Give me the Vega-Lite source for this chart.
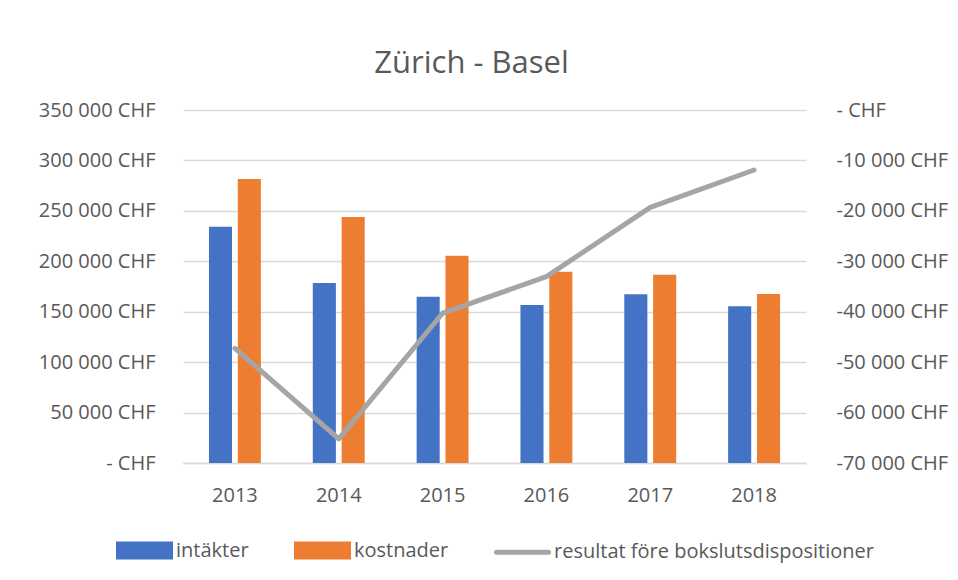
{
  "$schema": "https://vega.github.io/schema/vega-lite/v6.json",
  "width": 623,
  "height": 353,
  "autosize": {"type": "none"},
  "padding": {"left": 183, "top": 110, "right": 152, "bottom": 117},
  "background": "white",
  "title": {
    "text": "Zürich - Basel",
    "font": "Open Sans",
    "fontSize": 31,
    "fontWeight": "normal",
    "color": "#595959",
    "anchor": "middle",
    "dx": -23,
    "dy": 23,
    "baseline": "alphabetic",
    "offset": 19
  },
  "data": {
    "values": [
      {"year": "2013", "serie": "intäkter", "kind": "bar", "value": 234300},
      {"year": "2013", "serie": "kostnader", "kind": "bar", "value": 281600},
      {"year": "2014", "serie": "intäkter", "kind": "bar", "value": 178500},
      {"year": "2014", "serie": "kostnader", "kind": "bar", "value": 243900},
      {"year": "2015", "serie": "intäkter", "kind": "bar", "value": 164900},
      {"year": "2015", "serie": "kostnader", "kind": "bar", "value": 205500},
      {"year": "2016", "serie": "intäkter", "kind": "bar", "value": 156700},
      {"year": "2016", "serie": "kostnader", "kind": "bar", "value": 189700},
      {"year": "2017", "serie": "intäkter", "kind": "bar", "value": 167200},
      {"year": "2017", "serie": "kostnader", "kind": "bar", "value": 186700},
      {"year": "2018", "serie": "intäkter", "kind": "bar", "value": 155300},
      {"year": "2018", "serie": "kostnader", "kind": "bar", "value": 167500},
      {"year": "2013", "serie": "resultat före bokslutsdispositioner", "kind": "line", "value": -47250},
      {"year": "2014", "serie": "resultat före bokslutsdispositioner", "kind": "line", "value": -65200},
      {"year": "2015", "serie": "resultat före bokslutsdispositioner", "kind": "line", "value": -40300},
      {"year": "2016", "serie": "resultat före bokslutsdispositioner", "kind": "line", "value": -33050},
      {"year": "2017", "serie": "resultat före bokslutsdispositioner", "kind": "line", "value": -19300},
      {"year": "2018", "serie": "resultat före bokslutsdispositioner", "kind": "line", "value": -11900}
    ]
  },
  "layer": [
    {
      "transform": [{"filter": "datum.kind === 'bar'"}],
      "mark": {"type": "bar"},
      "encoding": {
        "x": {
          "field": "year",
          "type": "nominal",
          "sort": null,
          "scale": {"paddingInner": 0.5, "paddingOuter": 0.25},
          "axis": {"title": null, "labelAngle": 0, "ticks": false, "labelPadding": 22, "domainColor": "#D9D9D9", "domainWidth": 1.5, "grid": false}
        },
        "xOffset": {
          "field": "serie",
          "type": "nominal",
          "sort": ["intäkter", "kostnader"],
          "scale": {"paddingInner": 0.2, "paddingOuter": 0}
        },
        "y": {
          "field": "value",
          "type": "quantitative",
          "scale": {"domain": [0, 350000], "nice": false, "zero": true},
          "axis": {
            "orient": "left",
            "title": null,
            "values": [0, 50000, 100000, 150000, 200000, 250000, 300000, 350000],
            "labelExpr": "datum.value === 0 ? '- CHF' : replace(format(datum.value, ','), ',', ' ') + ' CHF'",
            "grid": true,
            "gridColor": "#D9D9D9",
            "gridWidth": 1.5,
            "domain": false,
            "ticks": false,
            "tickSize": 0,
            "labelPadding": 28
          }
        },
        "color": {
          "field": "serie",
          "type": "nominal",
          "scale": {
            "domain": ["intäkter", "kostnader", "resultat före bokslutsdispositioner"],
            "range": ["#4472C4", "#ED7D31", "#A5A5A5"]
          },
          "legend": {
            "title": null,
            "orient": "bottom",
            "direction": "horizontal",
            "offset": 17,
            "padding": 0,
            "symbolSize": 2704,
            "symbolStrokeWidth": 5,
            "labelOffset": 3,
            "columnPadding": 37,
            "labelFont": "Open Sans",
            "labelFontSize": 20,
            "labelColor": "#595959",
            "labelLimit": 600,
            "encode": {
              "symbols": {
                "update": {
                  "shape": {"signal": "datum.value === 'resultat före bokslutsdispositioner' ? 'stroke' : 'M-1,-0.25H1V0.25H-1Z'"},
                  "fill": {"signal": "datum.value === 'resultat före bokslutsdispositioner' ? 'transparent' : scale('color', datum.value)"},
                  "stroke": {"signal": "datum.value === 'resultat före bokslutsdispositioner' ? '#A5A5A5' : 'transparent'"},
                  "strokeWidth": {"value": 5},
                  "size": {"value": 2704},
                  "y": {"signal": "datum.size * 0.5 - (datum.value === 'resultat före bokslutsdispositioner' ? 3 : 0)"},
                  "strokeCap": {"value": "round"},
                  "opacity": {"value": 1}
                }
              },
              "labels": {
                "update": {
                  "dy": {"signal": "datum.value === 'resultat före bokslutsdispositioner' ? -3 : 0"}
                }
              }
            }
          }
        }
      }
    },
    {
      "transform": [{"filter": "datum.kind === 'line'"}],
      "mark": {"type": "line", "strokeWidth": 5, "strokeCap": "round", "strokeJoin": "round"},
      "encoding": {
        "x": {"field": "year", "type": "nominal", "sort": null},
        "y": {
          "field": "value",
          "type": "quantitative",
          "scale": {"domain": [-70000, 0], "nice": false, "zero": false},
          "axis": {
            "orient": "right",
            "title": null,
            "values": [-70000, -60000, -50000, -40000, -30000, -20000, -10000, 0],
            "labelExpr": "datum.value === 0 ? '\u00a0- CHF' : '-' + replace(format(-datum.value, ','), ',', ' ') + ' CHF'",
            "grid": false,
            "domain": false,
            "ticks": false,
            "tickSize": 0,
            "labelAlign": "left",
            "labelPadding": 30
          }
        },
        "color": {"field": "serie", "type": "nominal"}
      }
    }
  ],
  "resolve": {"scale": {"y": "independent"}},
  "config": {
    "view": {"stroke": null},
    "font": "Open Sans",
    "axis": {
      "labelFont": "Open Sans",
      "labelFontSize": 20,
      "labelColor": "#595959"
    },
    "legend": {
      "layout": {"bottom": {"anchor": "middle"}}
    }
  }
}
